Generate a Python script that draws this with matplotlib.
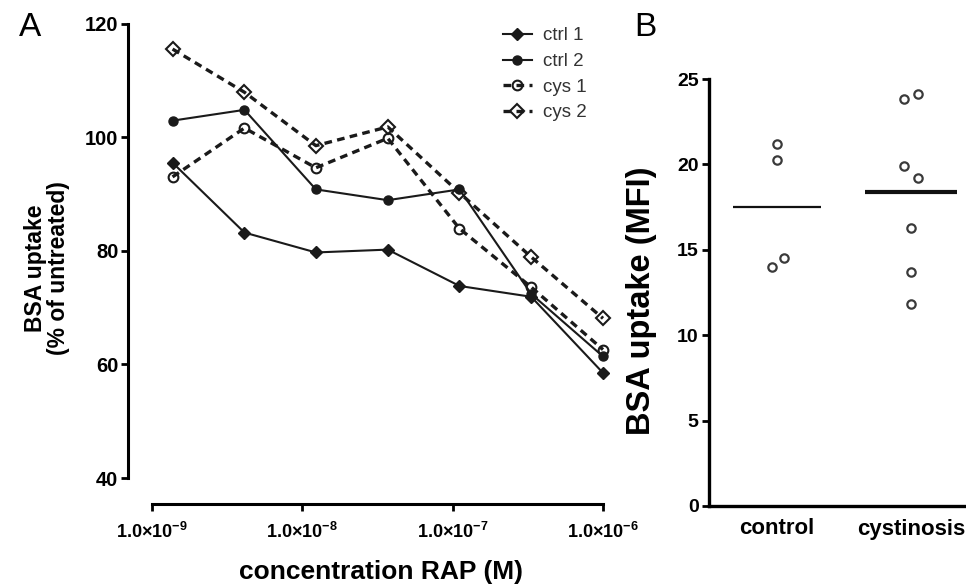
import numpy as np
import matplotlib
matplotlib.use('Agg')
import matplotlib.pyplot as plt

# panel A: BSA uptake vs RAP concentration
conc = [1.37e-9, 4.12e-9, 1.23e-8, 3.70e-8, 1.11e-7, 3.33e-7, 1.0e-6]
ctrl1 = [95.5, 83.2, 79.7, 80.2, 73.8, 71.9, 58.5]
ctrl2 = [102.9, 104.8, 90.8, 88.9, 90.8, 72.4, 61.4]
cys1 = [93.0, 101.6, 94.6, 99.8, 83.9, 73.6, 62.6]
cys2 = [115.5, 107.9, 98.5, 101.8, 90.2, 78.9, 68.1]
xticks = [1e-9, 1e-8, 1e-7, 1e-6]
xticklabels = ['1.0×10$^{-9}$', '1.0×10$^{-8}$', '1.0×10$^{-7}$', '1.0×10$^{-6}$']

# panel B: MFI per group
groups = ['control', 'cystinosis']
control_mfi = [21.2, 20.25, 14.0, 14.5]
cystinosis_mfi = [23.8, 24.1, 19.9, 19.2, 16.3, 13.7, 11.8]
control_jit = [0, 0, -0.04, 0.05]
cystinosis_jit = [-0.05, 0.05, -0.05, 0.05, 0, 0, 0]

plt.rcParams['font.family'] = 'Liberation Sans'
plt.rcParams['mathtext.fontset'] = 'custom'
plt.rcParams['mathtext.rm'] = 'Liberation Sans:bold'
plt.rcParams['mathtext.bf'] = 'Liberation Sans:bold'
plt.rcParams['mathtext.it'] = 'Liberation Sans:bold'
plt.rcParams['mathtext.default'] = 'bf'

W, H = 966, 585
fig = plt.figure(figsize=(W / 100, H / 100), dpi=100)

# ---- panel A ----
a_left, a_right, a_top, a_bot = 127.5, 606, 23.5, 478
axA = fig.add_axes([a_left / W, 1 - a_bot / H, (a_right - a_left) / W, (a_bot - a_top) / H])
dec = 150.3
axA.set_xscale('log')
axA.set_xlim(10 ** (-9 - (152 - a_left) / dec), 10 ** (-6 + (a_right - 603) / dec))
axA.set_ylim(40, 120)

col = '#1a1a1a'
axA.plot(conc, ctrl1, '-', color=col, lw=1.5, marker='D', ms=6.5, mfc=col, mec=col,
         label='ctrl 1', clip_on=False)
axA.plot(conc, ctrl2, '-', color=col, lw=1.5, marker='o', ms=6.5, mfc=col, mec=col,
         label='ctrl 2', clip_on=False)
axA.plot(conc, cys1, '--', color=col, lw=2.4, dashes=(2.3, 1.6), marker='o', ms=7, mfc='none',
         mec=col, mew=1.5, label='cys 1', clip_on=False)
axA.plot(conc, cys2, '--', color=col, lw=2.4, dashes=(2.3, 1.6), marker='D', ms=7, mfc='none',
         mec=col, mew=1.5, label='cys 2', clip_on=False)

for s in ['top', 'right']:
    axA.spines[s].set_visible(False)
axA.spines['left'].set_linewidth(2.2)
axA.spines['bottom'].set_linewidth(2.2)
axA.spines['bottom'].set_position(('outward', 26 * 0.72))
axA.spines['bottom'].set_bounds(1e-9, 1e-6)

axA.set_xticks(xticks)
axA.set_xticklabels(xticklabels)
axA.xaxis.set_minor_locator(matplotlib.ticker.NullLocator())
axA.set_yticks([40, 60, 80, 100, 120])
axA.tick_params(axis='y', length=5, width=2, labelsize=14.5, pad=1.5)
axA.tick_params(axis='x', length=5, width=2, labelsize=13, pad=8)
for lab in axA.get_yticklabels() + axA.get_xticklabels():
    lab.set_fontweight('bold')

axA.set_ylabel('BSA uptake\n(% of untreated)', fontsize=16.5, fontweight='bold', linespacing=1.0)
axA.yaxis.set_label_coords((70 - a_left) / (a_right - a_left), (a_bot - 268) / (a_bot - a_top))
axA.set_xlabel('concentration RAP (M)', fontsize=19, fontweight='bold')
axA.xaxis.set_label_coords((381 - a_left) / (a_right - a_left), (a_bot - 560) / (a_bot - a_top))

leg = axA.legend(loc='upper left', bbox_to_anchor=(494 / W, 1 - 18 / H),
                 bbox_transform=fig.transFigure, frameon=False, fontsize=13.5,
                 handlelength=1.5, handletextpad=0.6, labelspacing=0.45, borderpad=0)
for t in leg.get_texts():
    t.set_color('#333333')

fig.text(30 / W, 1 - 27 / H, 'A', fontsize=24, ha='center', va='center')

# ---- panel B ----
b_left, b_right, b_top, b_bot = 709, 966, 79, 506
axB = fig.add_axes([b_left / W, 1 - b_bot / H, (b_right - b_left) / W, (b_bot - b_top) / H])
axB.set_xlim(-0.507, 1.41)
axB.set_ylim(0, 25)

pos = np.arange(len(groups))
gcol = '#3a3a3a'
axB.plot(pos[0] + np.array(control_jit), control_mfi, 'o', ms=6, mfc='none', mec=gcol,
         mew=1.6, clip_on=False)
axB.plot(pos[1] + np.array(cystinosis_jit), cystinosis_mfi, 'o', ms=6, mfc='none', mec=gcol,
         mew=1.6, clip_on=False)
axB.hlines(np.mean(control_mfi), pos[0] - 0.33, pos[0] + 0.33, color='#111111', lw=1.6)
axB.hlines(np.mean(cystinosis_mfi), pos[1] - 0.34, pos[1] + 0.34, color='#111111', lw=3)

for s in ['top', 'right']:
    axB.spines[s].set_visible(False)
axB.spines['left'].set_linewidth(2.4)
axB.spines['bottom'].set_linewidth(2.4)
axB.set_xticks(pos)
axB.set_xticklabels(groups)
axB.set_yticks([0, 5, 10, 15, 20, 25])
axB.tick_params(axis='x', length=0, labelsize=16, pad=9)
axB.tick_params(axis='y', length=5, width=2, labelsize=14, pad=2.5)
for lab in axB.get_yticklabels() + axB.get_xticklabels():
    lab.set_fontweight('bold')

axB.set_ylabel('BSA uptake (MFI)', fontsize=23.5, fontweight='bold')
axB.yaxis.set_label_coords((657 - b_left) / (b_right - b_left), (b_bot - 301) / (b_bot - b_top))

fig.text(645 / W, 1 - 27 / H, 'B', fontsize=24, ha='center', va='center')

fig.savefig('out.png', dpi=100)
